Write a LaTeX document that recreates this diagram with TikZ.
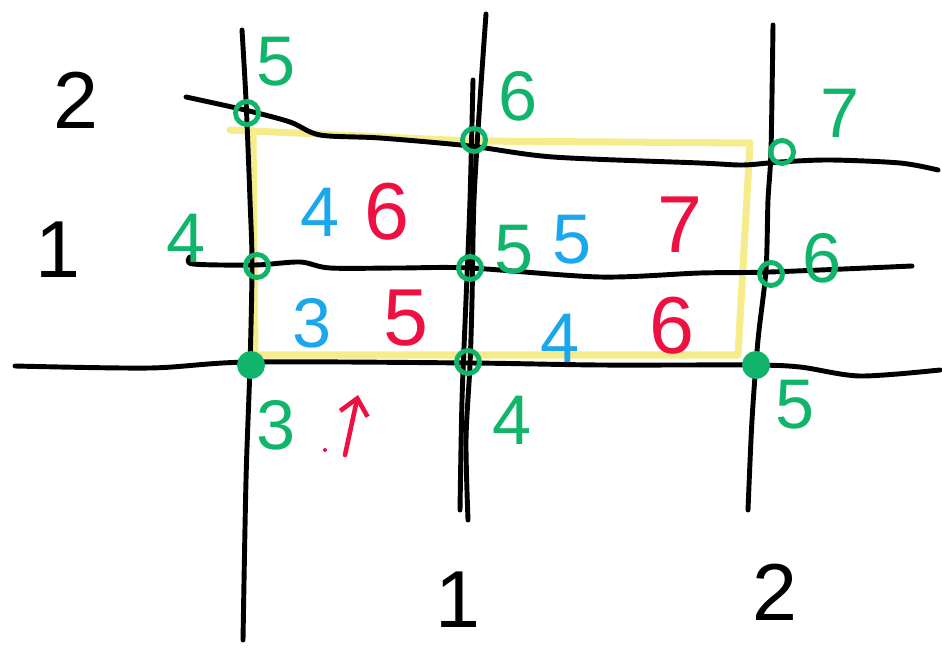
\documentclass[tikz,border=0pt]{standalone}
\usepackage{fontspec}
\setmainfont{Liberation Sans}
\usetikzlibrary{arrows.meta}
\definecolor{gr}{HTML}{10B46A}
\definecolor{bl}{HTML}{1AA7EC}
\definecolor{rd}{HTML}{EE1040}
\definecolor{yl}{HTML}{F6EC8C}
\tikzset{
  ink/.style={line width=2.8pt, line cap=round, line join=round, black},
  hl/.style={line width=4pt, line cap=round, line join=round, yl},
  ring/.style={line width=2.8pt, gr, circle, draw, minimum size=0.46cm, inner sep=0pt},
  dotring/.style={ring, fill=gr},
  big/.style={font=\fontsize{46}{46}\selectfont, inner sep=0pt},
  mid/.style={font=\fontsize{40}{40}\selectfont, inner sep=0pt},
  glab/.style={mid, text=gr},
  blab/.style={mid, text=bl},
  rlab/.style={big, text=rd},
  klab/.style={big, text=black},
}
\begin{document}
\begin{tikzpicture}[x=0.02cm,y=-0.02cm]
\useasboundingbox (0,0) rectangle (942,651);
% yellow highlight rectangle
\draw[hl] (230,130) -- (470,141) -- (750,143) -- (738,355) -- (255,355) -- (253,132);
% vertical lines
\draw[ink] plot[smooth] coordinates {(242,30) (246,100) (250,200) (252,265) (250,365) (246,480) (243,640)};
\draw[ink] plot[smooth] coordinates {(486,14) (480,100) (474,200) (472,300) (470,365) (466,440) (468,520)};
\draw[ink] plot[smooth] coordinates {(473,80) (470,200) (466,300) (462,400) (460,510)};
\draw[ink] plot[smooth] coordinates {(773,25) (771,150) (768,200) (766,270) (758,340) (752,420) (748,510)};
% horizontal lines
\draw[ink] plot[smooth] coordinates {(186,97) (245,110) (290,122) (320,135) (380,138) (470,146) (553,157) (700,163) (743,165) (780,162) (830,160) (900,163) (938,170)};
\draw[ink] plot[smooth] coordinates {(190,257) (193,264) (255,265) (300,262) (330,268) (400,268) (470,268) (600,277) (700,273) (770,272) (912,266)};
\draw[ink] plot[smooth] coordinates {(15,366) (150,368) (250,362) (470,363) (600,365) (750,365) (800,367) (860,376) (940,370)};
% green rings at intersections
\node[ring] (p20) at (247,113) {};
\node[ring] (p21) at (474,140) {};
\node[ring] (p22) at (782,152) {};
\node[ring] (p10) at (257,266) {};
\node[ring] (p11) at (470,268) {};
\node[ring] (p12) at (771,274) {};
\node[dotring] (p00) at (251,365) {};
\node[ring] (p01) at (468,362) {};
\node[dotring] (p02) at (756,365) {};
% green labels
\node[glab] (g20) at (276,62) {5};
\node[glab] (g21) at (518,96) {6};
\node[glab] (g22) at (840,113) {7};
\node[glab] (g10) at (186,238) {4};
\node[glab] (g11) at (514,250) {5};
\node[glab] (g12) at (822,258) {6};
\node[glab] (g00) at (276,425) {3};
\node[glab] (g01) at (512,420) {4};
\node[glab] (g02) at (795,405) {5};
% blue labels
\node[blab] (b1) at (320,212) {4};
\node[blab] (b2) at (312,323) {3};
\node[blab] (b3) at (572,240) {5};
\node[blab] (b4) at (560,338) {4};
\fill[bl] (371,203) circle (2);
% red labels
\node[rlab] (r1) at (387,212) {6};
\node[rlab] (r2) at (406,318) {5};
\node[rlab] (r3) at (680,225) {7};
\node[rlab] (r4) at (672,326) {6};
\coordinate (ra) at (345,455);
\coordinate (rb) at (358,395);
\draw[rd, line width=2.6pt, line cap=round, -{Straight Barb[length=9pt,width=16pt]}] (ra) -- (rb);
\fill[rd] (325,450) circle (2);
% black axis labels
\node[klab] (y2) at (76,100) {2};
\node[klab] (y1) at (58,250) {1};
\node[klab] (x1) at (458,600) {1};
\node[klab] (x2) at (775,592) {2};
\end{tikzpicture}
\end{document}
